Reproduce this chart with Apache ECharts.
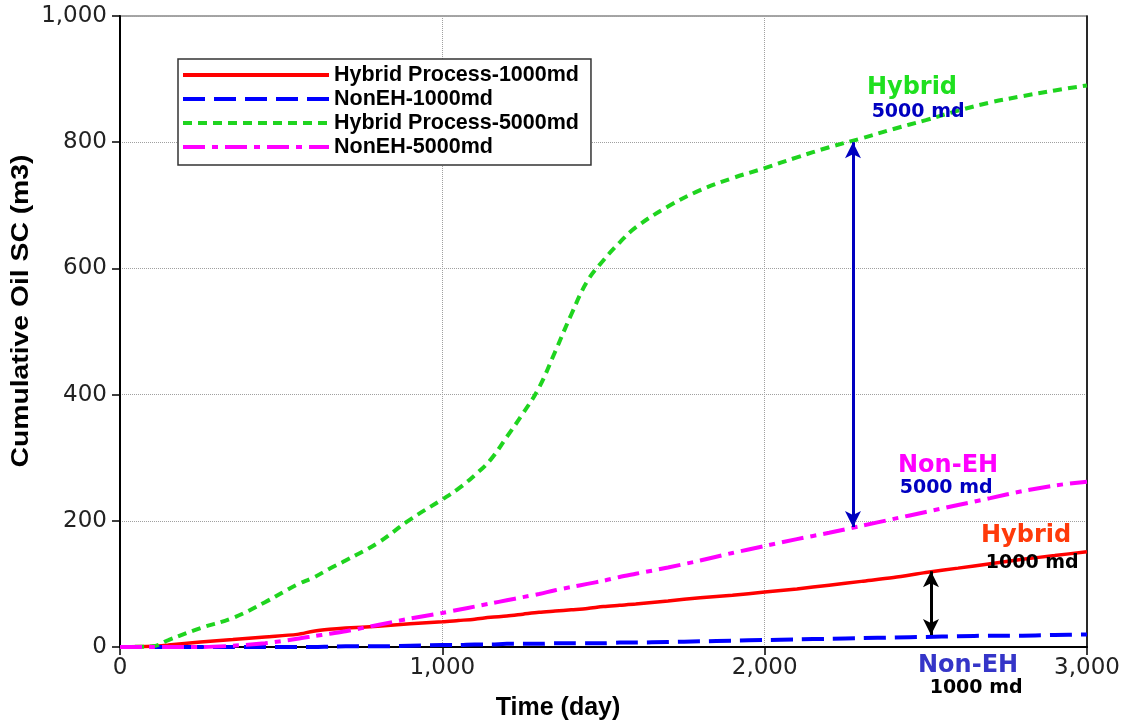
<!DOCTYPE html>
<html>
<head>
<meta charset="utf-8">
<script src="https://cdn.jsdelivr.net/npm/echarts@6/dist/echarts.min.js"></script>
<style>html,body{margin:0;padding:0;background:#fff}#c{width:1138px;height:726px}</style>
</head>
<body>
<div id="c"></div>
<script>
var days = [0, 100, 150, 250, 350, 450, 550, 600, 650, 700, 800, 900, 1000, 1050, 1100, 1150, 1200, 1250, 1300, 1350, 1400, 1450, 1500, 1550, 1600, 1700, 1800, 1900, 2000, 2100, 2200, 2300, 2400, 2500, 2600, 2700, 2800, 2900, 3000];
var hybrid1000 = [0, 1, 3, 8, 12, 16, 20, 25, 28, 30, 33, 37, 40, 42, 44, 47, 49, 52, 55, 57, 59, 61, 64, 66, 68, 73, 78, 82, 87, 92, 98, 104, 110, 118, 125, 132, 139, 145, 151];
var nonEH1000 = [0, 0, 0, 0, 0, 0, 0, 0, 0.5, 1, 1, 2, 3, 3, 4, 4, 5, 5, 5, 6, 6, 6, 6, 7, 7, 8, 9, 10, 11, 12, 13, 14, 15, 16, 17, 18, 18, 19, 20];
var hybrid5000 = [0, 1, 11, 30, 46, 71, 99, 110, 124, 137, 165, 202, 234, 251, 272, 297, 333, 370, 411, 468, 527, 580, 613, 641, 665, 698, 724, 743, 759, 776, 792, 806, 821, 835, 850, 863, 873, 882, 890];
var nonEH5000 = [0, 0, 0, 0, 2, 6, 13, 17, 21, 25, 35, 45, 54, 59, 64, 69, 74, 79, 84, 90, 95, 100, 105, 111, 116, 126, 137, 149, 160, 171, 181, 192, 203, 214, 225, 236, 247, 256, 262];
var seriesNames = ['Hybrid Process-1000md', 'NonEH-1000md', 'Hybrid Process-5000md', 'NonEH-5000md'];
var xTicks = [0, 1000, 2000, 3000];
var yTicks = [0, 200, 400, 600, 800, 1000];
// double arrows: [day, from, to]
var arrow5000 = [2274, 800, 190];
var arrow1000 = [2516, 120, 19];
// annotations
var annotText = ['Hybrid', '5000 md', 'Non-EH', '5000 md', 'Hybrid', '1000 md', 'Non-EH', '1000 md'];
var annotDay = [2457, 2476, 2569, 2563, 2811, 2830, 2631, 2656];
var annotVal = [886, 848, 288, 252, 177, 133, -29, -65];
var annotColor = ['#1fe01f', '#0000c0', '#ff00ff', '#0000c0', '#ff3a0a', '#000000', '#3535c8', '#000000'];
var annotSize = [24, 19, 24, 19, 24, 19, 24, 19];

function pairs(v) { return days.map(function (d, i) { return [d, v[i]]; }); }
function fmt(v) { return String(v).replace(/\B(?=(\d{3})+(?!\d))/g, ','); }

var chart = echarts.init(document.getElementById('c'), null, { renderer: 'canvas' });
var axisFont = { fontFamily: 'DejaVu Sans', fontSize: 23, color: '#222' };
var option = {
  animation: false,
  backgroundColor: '#fff',
  grid: { left: 120, right: 51, top: 16, bottom: 79, show: true, borderColor: '#888', borderWidth: 1.5 },
  legend: {
    orient: 'vertical', left: 178, top: 59,
    backgroundColor: '#fff', borderColor: '#333', borderWidth: 1.5,
    padding: [5, 12, 7, 3], itemGap: 2, itemWidth: 146, itemHeight: 14,
    itemStyle: { opacity: 0 },
    lineStyle: { width: 4 },
    textStyle: { fontFamily: 'Liberation Sans', fontWeight: 'bold', fontSize: 21.5, color: '#000', lineHeight: 20 },
    data: seriesNames
  },
  xAxis: [{
    type: 'value', min: 0, max: 3000, interval: 1000,
    axisLine: { show: true, lineStyle: { color: '#000', width: 2 } },
    axisTick: { show: true, length: 8, lineStyle: { color: '#000', width: 1.5 } },
    axisLabel: Object.assign({ margin: 10, formatter: fmt }, axisFont),
    splitLine: { show: true, lineStyle: { color: '#a0a0a0', type: 'dotted', width: 1 } }
  }],
  yAxis: [{
    type: 'value', min: 0, max: 1000, interval: 200,
    axisLine: { show: true, lineStyle: { color: '#000', width: 2 } },
    axisTick: { show: true, length: 8, lineStyle: { color: '#000', width: 1.5 } },
    axisLabel: Object.assign({ margin: 13, formatter: fmt }, axisFont),
    splitLine: { show: true, lineStyle: { color: '#a0a0a0', type: 'dotted', width: 1 } }
  }, {
    type: 'value', min: 0, max: 1000, interval: 200, position: 'right',
    axisLine: { show: true, lineStyle: { color: '#000', width: 1.5 } },
    axisTick: { show: false }, axisLabel: { show: false }, splitLine: { show: false }
  }],
  series: [
    {
      name: seriesNames[0], type: 'line', data: pairs(hybrid1000), showSymbol: false, symbol: 'none', smooth: 0.3,
      itemStyle: { color: '#ff0000' }, lineStyle: { color: '#ff0000', width: 3.5, type: 'solid' },
      markLine: {
        silent: true, symbol: ['arrow', 'arrow'], symbolSize: [12, 16], label: { show: false },
        lineStyle: { color: '#000', width: 3, type: 'solid' },
        data: [[{ coord: [arrow1000[0], arrow1000[1]] }, { coord: [arrow1000[0], arrow1000[2]] }]]
      }
    },
    {
      name: seriesNames[1], type: 'line', data: pairs(nonEH1000), showSymbol: false, symbol: 'none', smooth: 0.3,
      itemStyle: { color: '#0000ff' }, lineStyle: { color: '#0000ff', width: 4, type: [22, 9] }
    },
    {
      name: seriesNames[2], type: 'line', data: pairs(hybrid5000), showSymbol: false, symbol: 'none', smooth: 0.4,
      itemStyle: { color: '#1fd41f' }, lineStyle: { color: '#1fd41f', width: 4, type: [9, 6] },
      markLine: {
        silent: true, symbol: ['arrow', 'arrow'], symbolSize: [12, 16], label: { show: false },
        lineStyle: { color: '#0000c0', width: 3, type: 'solid' },
        data: [[{ coord: [arrow5000[0], arrow5000[1]] }, { coord: [arrow5000[0], arrow5000[2]] }]]
      }
    },
    {
      name: seriesNames[3], type: 'line', data: pairs(nonEH5000), showSymbol: false, symbol: 'none', smooth: 0.3,
      itemStyle: { color: '#ff00ff' }, lineStyle: { color: '#ff00ff', width: 4, type: [22, 7, 6, 7] }
    }
  ]
};
chart.setOption(option);

var g = [];
for (var i = 0; i < annotText.length; i++) {
  var p = chart.convertToPixel({ gridIndex: 0 }, [annotDay[i], annotVal[i]]);
  g.push({
    type: 'text', x: p[0], y: p[1], z: 100,
    style: { text: annotText[i], fill: annotColor[i], font: 'bold ' + annotSize[i] + 'px "DejaVu Sans"', textAlign: 'center', textVerticalAlign: 'middle' }
  });
}
g.push({ type: 'text', x: 558, y: 708, style: { text: 'Time (day)', fill: '#000', font: 'bold 25px "Liberation Sans"', textAlign: 'center', textVerticalAlign: 'middle' } });
g.push({ type: 'text', x: 22, y: 311, rotation: Math.PI / 2, scaleX: 1.23, style: { text: 'Cumulative Oil SC (m3)', fill: '#000', font: 'bold 23px "Liberation Sans"', textAlign: 'center', textVerticalAlign: 'middle' } });
chart.setOption({ graphic: g });
</script>
</body>
</html>
